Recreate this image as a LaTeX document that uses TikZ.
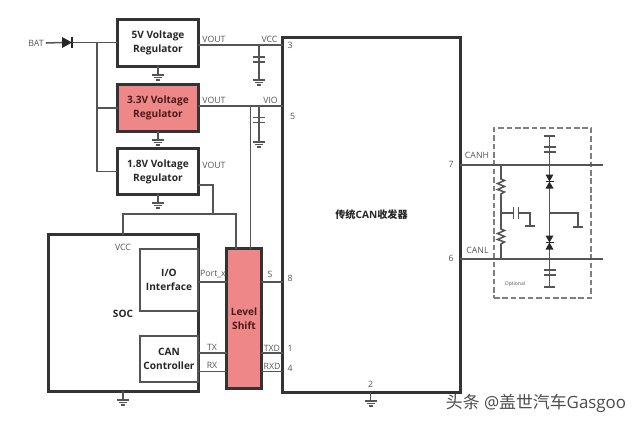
\documentclass[tikz,border=0pt]{standalone}
\usepackage{fontspec}
\setmainfont{Open Sans}
\newfontfamily\cjkfont{Noto Sans CJK SC}
\usepackage{tikz}
\tikzset{>=latex}
\usetikzlibrary{calc}
\definecolor{highlight}{HTML}{EE8888}
\definecolor{highlighttext}{HTML}{4A1A1A}
\definecolor{wirecolor}{HTML}{555555}
\definecolor{boxcolor}{HTML}{333333}
\definecolor{labelcolor}{HTML}{555555}
\tikzset{
    wire/.style={draw=wirecolor, line width=0.38mm},
    bigbox/.style={draw=boxcolor, line width=0.75mm, rectangle, inner sep=0pt, outer sep=0pt, align=center, font=\fontsize{7.2}{10}\selectfont\bfseries, text=black!85},
    thinbox/.style={draw=wirecolor, line width=0.3mm, rectangle, inner sep=0pt, outer sep=0pt, align=center, font=\fontsize{7.2}{10}\selectfont\bfseries, text=black!85},
    hotbox/.style={bigbox, fill=highlight, text=highlighttext},
    pinlabel/.style={inner sep=0pt, text=labelcolor, font=\fontsize{6.2}{7}\selectfont},
    pics/gnd/.style={code={
        \draw[wire] (0,0) -- (0,9);
        \draw[wire] (-6,9) -- (6,9);
        \draw[wire] (-4,11.5) -- (4,11.5);
        \draw[wire] (-2,14) -- (2,14);
    }},
    pics/capv/.style={code={
        \draw[wire, line width=0.45mm] (-6,-2.5) -- (6,-2.5);
        \draw[wire, line width=0.45mm] (-6,2.5) -- (6,2.5);
    }},
    pics/tvs/.style={code={
        \fill[black!85] (-4,-7) -- (4,-7) -- (0,0) -- cycle;
        \fill[black!85] (-4,7) -- (4,7) -- (0,0) -- cycle;
        \draw[black!85, line width=0.3mm] (-4,0) -- (4,0);
    }},
}
\begin{document}
\begin{tikzpicture}[x=0.025cm, y=-0.025cm]
    \useasboundingbox (0, 0) rectangle (640, 423);

    % regulators
    \node[bigbox, minimum width=2cm, minimum height=1.15cm] (regfive) at (158, 43) {5V Voltage\\Regulator};
    \node[hotbox, minimum width=2cm, minimum height=1.15cm] (regthree) at (158, 108) {3.3V Voltage\\Regulator};
    \node[bigbox, minimum width=2cm, minimum height=1.125cm] (regone) at (158, 171.5) {1.8V Voltage\\Regulator};

    % chips
    \node[bigbox, minimum width=3.725cm, minimum height=3.9cm] (soc) at (123.5, 313) {};
    \node[bigbox, minimum width=4.425cm, minimum height=8.85cm] (chip) at (371.5, 215) {{\cjkfont 传统}CAN{\cjkfont 收发器}};
    \node[thinbox, minimum width=1.45cm, minimum height=1.55cm] (io) at (169, 280) {I/O\\Interface};
    \node[thinbox, minimum width=1.45cm, minimum height=1.15cm] (can) at (169, 359) {CAN\\Controller};
    \node[hotbox, minimum width=0.85cm, minimum height=3.475cm] (shift) at (244, 318.5) {Level\\Shift};
    \node[inner sep=0pt, font=\fontsize{7.2}{10}\selectfont\bfseries, text=black!85] (soclabel) at (123, 314) {SOC};

    % battery and diode
    \node[pinlabel] (bat) at (36, 43) {BAT};
    \coordinate (diodein) at (62, 42.5);
    \coordinate (diodeout) at (72, 42.5);
    \coordinate (rail) at (97, 42.5);
    \draw[wire] (bat.east) ++(2, 0) -- (diodein);
    \fill[black!85] ($(diodein) + (0, -5.5)$) -- (diodeout) -- ($(diodein) + (0, 5.5)$) -- cycle;
    \draw[black!85, line width=0.3mm] ($(diodeout) + (0, -5.5)$) -- ++(0, 11);
    \draw[wire] (diodeout) -- (rail) -- (regfive.west |- rail);
    \draw[wire] (rail) |- (regthree.west);
    \draw[wire] (rail) |- (regone.west);

    % regulator outputs
    \coordinate (vcc) at (283, 45);
    \coordinate (vio) at (283, 106);
    \coordinate (capfive) at (259, 45);
    \coordinate (capthree) at (259, 106);
    \coordinate (tapthree) at (250.5, 106);
    \coordinate (tapone) at (213, 185);
    \coordinate (socrail) at (123, 214);
    \coordinate (shiftrail) at (236, 214);
    \draw[wire] (regfive.east |- vcc) -- (vcc);
    \draw[wire] (regthree.east |- vio) -- (vio);
    \draw[wire] (capfive) -- ++(0, 35);
    \draw[wire] (capthree) -- ++(0, 36);
    \pic at (259, 59.5) {capv};
    \pic at (259, 120) {capv};
    \pic at (259, 71) {gnd};
    \pic at (259, 133) {gnd};
    \draw[wire] (tapthree) -- (tapthree |- shift.north);
    \draw[wire] (regone.east |- tapone) -- (tapone) -- (tapone |- socrail);
    \draw[wire] (soc.north -| socrail) -- (socrail) -- (shiftrail) -- (shiftrail |- shift.north);

    % grounds
    \pic at (regfive.south) {gnd};
    \pic at (regthree.south) {gnd};
    \pic at (regone.south) {gnd};
    \pic at (123, 391) {gnd};
    \pic at (370.5, 392) {gnd};

    % level shift signals
    \coordinate (portpin) at (198, 282);
    \coordinate (txpin) at (198, 353);
    \coordinate (rxpin) at (198, 371.5);
    \draw[wire] (portpin) -- (shift.west |- portpin);
    \draw[wire] (txpin) -- (shift.west |- txpin);
    \draw[wire] (rxpin) -- (shift.west |- rxpin);
    \draw[wire] (shift.east |- portpin) -- (chip.west |- portpin);
    \draw[wire] (shift.east |- txpin) -- (chip.west |- txpin);
    \draw[wire] (shift.east |- rxpin) -- (chip.west |- rxpin);

    % pin labels
    \node[pinlabel] (lblvoutfive) at (214, 39) {VOUT};
    \node[pinlabel] (lblvoutthree) at (214, 100.5) {VOUT};
    \node[pinlabel] (lblvoutone) at (214, 165) {VOUT};
    \node[pinlabel] (lblvcc) at (269.5, 39) {VCC};
    \node[pinlabel] (lblvio) at (270.5, 100.5) {VIO};
    \node[pinlabel] (lblsocvcc) at (123, 247) {VCC};
    \node[pinlabel] (lblport) at (213, 274.5) {Port\_x};
    \node[pinlabel] (lbltx) at (212, 347.5) {TX};
    \node[pinlabel] (lblrx) at (212, 365.5) {RX};
    \node[pinlabel] (lbls) at (270, 274.5) {S};
    \node[pinlabel] (lbltxd) at (272, 348) {TXD};
    \node[pinlabel] (lblrxd) at (272, 366) {RXD};
    \node[pinlabel] (pinthree) at (290, 45) {3};
    \node[pinlabel] (pinfive) at (292.5, 116) {5};
    \node[pinlabel] (pineight) at (290, 278.5) {8};
    \node[pinlabel] (pinone) at (290, 348) {1};
    \node[pinlabel] (pinfour) at (290, 368) {4};
    \node[pinlabel] (pintwo) at (370.5, 384) {2};
    \node[pinlabel] (pinseven) at (451, 164) {7};
    \node[pinlabel] (pinsix) at (451, 258) {6};
    \node[pinlabel] (lblcanh) at (477, 155) {CANH};
    \node[pinlabel] (lblcanl) at (477.5, 250) {CANL};

    % optional network
    \node[draw=black!50, dash pattern=on 4pt off 2pt, line width=0.3mm, minimum width=2.425cm, minimum height=4.25cm, inner sep=0pt, outer sep=0pt] (optional) at (542.5, 213) {};
    \node[pinlabel, font=\fontsize{3.6}{5}\selectfont] (lbloptional) at (515, 284) {Optional};
    \coordinate (canhend) at (603, 165);
    \coordinate (canlend) at (603, 259);
    \coordinate (tvstop) at (549.5, 136);
    \coordinate (tvsbot) at (549.5, 287);
    \coordinate (rtop) at (501, 165);
    \coordinate (rmid) at (501, 213);
    \coordinate (rbot) at (501, 259);
    \coordinate (tvsmid) at (549.5, 213);
    \draw[wire] (chip.east |- canhend) -- (canhend);
    \draw[wire] (chip.east |- canlend) -- (canlend);
    \draw[wire] (tvstop) -- (tvsbot);
    \draw[wire] (544, 136) -- (555, 136);
    \draw[wire] (544, 287) -- (555, 287);
    \pic at (549.5, 149.5) {capv};
    \pic at (549.5, 272.5) {capv};
    \pic at (549.5, 181.5) {tvs};
    \pic at (549.5, 242.5) {tvs};
    % resistors
    \draw[wire] (rtop) -- (501, 179) -- (504.5, 180.5) -- (497.5, 183.5) -- (504.5, 186.5) -- (497.5, 189.5) -- (504.5, 192) -- (501, 194) -- (rmid) -- (501, 229) -- (504.5, 230.5) -- (497.5, 233.5) -- (504.5, 236.5) -- (497.5, 239.5) -- (504.5, 242) -- (501, 244) -- (rbot);
    % mid branches
    \draw[wire] (rmid) -- (513.5, 213);
    \draw[wire] (518.5, 213) -- (530, 213) -- (530, 226);
    \draw[wire, line width=0.45mm] (513.5, 207) -- (513.5, 219);
    \draw[wire, line width=0.45mm] (518.5, 207) -- (518.5, 219);
    \draw[wire] (525, 226) -- (535, 226);
    \draw[wire] (tvsmid) -- (578, 213) -- (578, 227);
    \draw[wire] (573, 227) -- (583, 227);

    % watermark
    \node[inner sep=0pt, text=black!70, font=\fontsize{12}{14}\selectfont] (watermark) at (536, 403) {{\cjkfont 头条} @{\cjkfont 盖世汽车}Gasgoo};
\end{tikzpicture}
\end{document}
